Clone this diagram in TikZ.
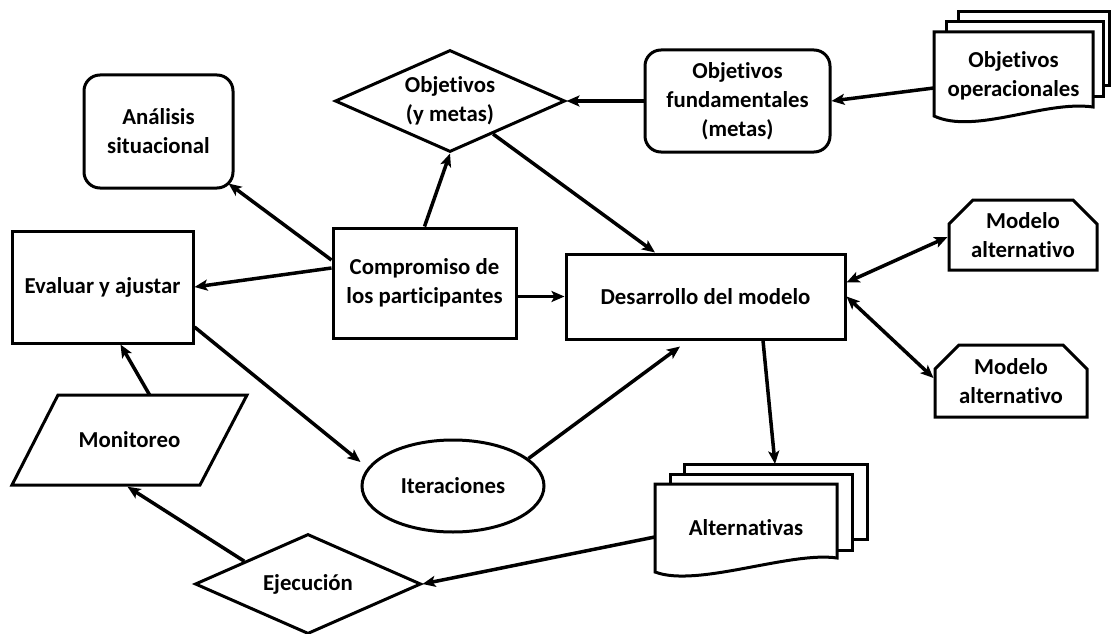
\documentclass[tikz,border=0pt]{standalone}
\usepackage{fontspec}
\setmainfont{Carlito}[Ligatures=NoCommon]
\usetikzlibrary{shapes.geometric,shapes.misc,arrows.meta,calc}

\begin{document}
\begin{tikzpicture}[x=1pt,y=-1pt,
  lbl/.style={font=\bfseries\fontsize{22.8}{29}\selectfont, align=center, text=black},
  box/.style={draw, line width=3pt, fill=white, inner sep=0pt, lbl},
  sheet/.style={draw, line width=3pt, fill=white},
  conn/.style={line width=3.5pt, -{Stealth[length=13pt,width=11pt,inset=3pt]}},
  conn2/.style={line width=3.5pt, {Stealth[length=13pt,width=11pt,inset=3pt]}-{Stealth[length=13pt,width=11pt,inset=3pt]}}
]
\useasboundingbox (0,0) rectangle (1111,634);
\fill[white] (0,0) rectangle (1111,634);

% stacked sheets: operational objectives
\draw[sheet] (958,12) rectangle (1109,85);
\draw[sheet] (946,22) rectangle (1103,96);
\draw[sheet] (934,32) -- (1093,32) -- (1093,107)
  .. controls (1045,100) and (975,135) .. (934,116) -- cycle;
\node[lbl, inner sep=0pt, minimum width=159pt, minimum height=80pt] (ope) at (1013.5,76) {Objetivos\\operacionales};

% stacked sheets: alternatives
\draw[sheet] (684,464) rectangle (867,539);
\draw[sheet] (670,474) rectangle (852,550);
\draw[sheet] (655,484) -- (837,484) -- (837,558)
  .. controls (790,551) and (697,588) .. (655,572) -- cycle;
\node[lbl, inner sep=0pt, minimum width=182pt, minimum height=80pt] (alt) at (746,528) {Alternativas};
\coordinate (altb) at (775,464);

% parallelogram for monitoring
\draw[sheet] (58,395) -- (247,395) -- (200,485) -- (12,485) -- cycle;
\node[lbl, inner sep=0pt, minimum width=140pt, minimum height=90pt] (mon) at (129.5,440) {Monitoreo};

% main nodes
\node[box, rounded corners=16pt, minimum width=149pt, minimum height=113pt] (ana) at (158.5,131.5) {Análisis\\situacional};
\node[box, minimum width=181pt, minimum height=112pt] (eva) at (102.5,287) {Evaluar y ajustar};
\node[box, minimum width=183pt, minimum height=110pt] (com) at (424.5,283) {Compromiso de\\los participantes};
\node[box, minimum width=279pt, minimum height=85pt] (des) at (705.5,296.5) {Desarrollo del modelo};
\node[box, rounded corners=16pt, minimum width=185pt, minimum height=102pt] (fun) at (737.5,101) {Objetivos\\fundamentales\\(metas)};
\node[box, diamond, minimum width=230pt, minimum height=102pt,
      label={[lbl]center:Objetivos\\(y metas)}] (obj) at (450,101) {};
\node[box, ellipse, minimum width=182pt, minimum height=92pt] (ite) at (453,486) {Iteraciones};
\node[box, diamond, minimum width=226pt, minimum height=100pt,
      label={[lbl]center:Ejecución}] (eje) at (308,584) {};
\node[box, chamfered rectangle, chamfered rectangle corners={north west,north east},
      chamfered rectangle xsep=12pt, chamfered rectangle ysep=12pt,
      minimum width=148pt, minimum height=70pt] (ma1) at (1023,235) {Modelo\\alternativo};
\node[box, chamfered rectangle, chamfered rectangle corners={north west,north east},
      chamfered rectangle xsep=12pt, chamfered rectangle ysep=12pt,
      minimum width=152pt, minimum height=72pt] (ma2) at (1011,381) {Modelo\\alternativo};

% connectors
\draw[conn] ([yshift=23pt]com.west) -- ([xshift=-6pt,yshift=6pt]ana.south east);
\draw[conn] ([yshift=15pt]com.west) -- (eva.east);
\draw[conn] (com.north) -- (obj.south);
\draw[conn] ([yshift=-13.5pt]com.east) -- (des.west);
\draw[conn] ($(obj.south)!0.37!(obj.east)$) -- ([xshift=-50.5pt]des.north);
\draw[conn] (fun.west) -- (obj.east);
\draw[conn] ([yshift=-12pt]ope.west) -- (fun.east);
\draw[conn2] ([yshift=14pt]des.east) -- ([yshift=-2pt]ma1.west);
\draw[conn2] (des.east) -- ([yshift=3pt]ma2.west);
\draw[conn] ([xshift=57.5pt]des.south) -- (altb);
\draw[conn] ([yshift=-9pt]alt.west) -- (eje.east);
\draw[conn] ($(eje.north)!0.557!(eje.west)$) -- ([xshift=-2pt,yshift=-1.5pt]mon.south);
\draw[conn] ([xshift=20pt]mon.north) -- ([xshift=18pt]eva.south);
\draw[conn] ([yshift=-40pt]eva.east) -- ([yshift=24pt]ite.west);
\draw[conn] (ite.20) -- ([xshift=-25.5pt,yshift=-6pt]des.south);
\end{tikzpicture}
\end{document}
